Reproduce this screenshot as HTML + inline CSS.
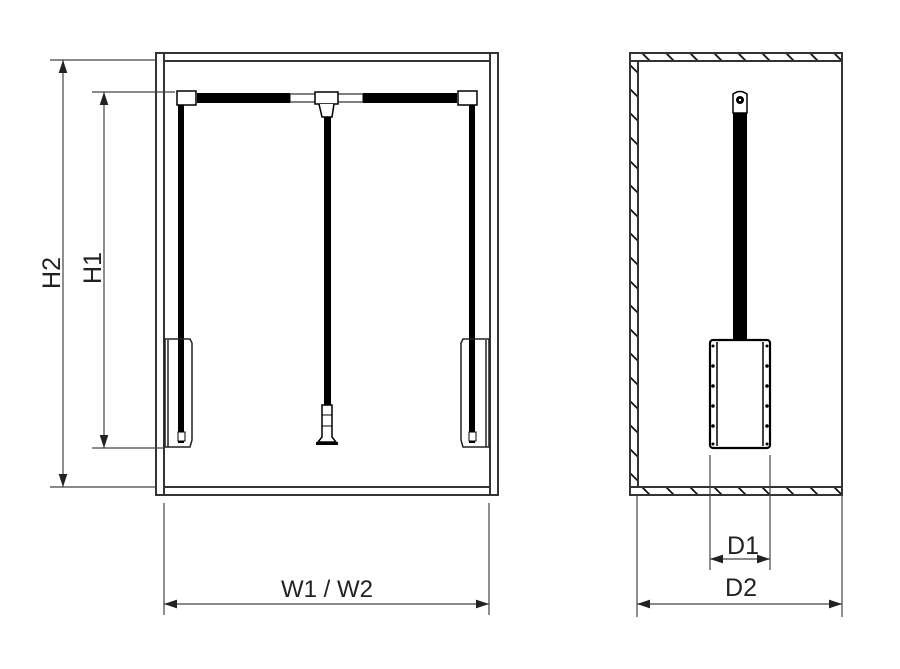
<!DOCTYPE html>
<html><head><style>html,body{margin:0;padding:0;background:#fff;}svg{display:block;}</style></head>
<body>
<svg width="900" height="669" viewBox="0 0 900 669" xmlns="http://www.w3.org/2000/svg" font-family="Liberation Sans, sans-serif">
<defs>
<marker id="ar" viewBox="0 0 12 8" refX="12" refY="4" markerWidth="13" markerHeight="9" orient="auto-start-reverse" markerUnits="userSpaceOnUse"><path d="M0,0 L12,4 L0,8 z" fill="#222"/></marker>
<pattern id="hh" x="640" y="53" width="24" height="8" patternUnits="userSpaceOnUse"><path d="M2,0 L10,8" stroke="#111" stroke-width="1.8"/></pattern>
<pattern id="hb" x="640" y="487" width="24" height="8" patternUnits="userSpaceOnUse"><path d="M2,0 L10,8" stroke="#111" stroke-width="1.8"/></pattern>
<pattern id="hv" x="630" y="65" width="8" height="24" patternUnits="userSpaceOnUse"><path d="M0,0 L8,8" stroke="#111" stroke-width="1.8"/></pattern>
</defs>
<g fill="none" stroke="#333" stroke-width="2">
<rect x="156" y="53" width="342" height="442"/>
<line x1="164" y1="53" x2="164" y2="495"/>
<line x1="490" y1="53" x2="490" y2="495"/>
<line x1="164" y1="61" x2="490" y2="61"/>
<line x1="164" y1="487" x2="490" y2="487"/>
</g>
<g stroke="#444" stroke-width="1.2" fill="none">
<line x1="50" y1="60" x2="156" y2="60"/>
<line x1="50" y1="487" x2="156" y2="487"/>
<line x1="92" y1="92" x2="175" y2="92"/>
<line x1="92" y1="448" x2="165" y2="448"/>
<line x1="63" y1="60" x2="63" y2="487" marker-start="url(#ar)" marker-end="url(#ar)"/>
<line x1="104" y1="92" x2="104" y2="448" marker-start="url(#ar)" marker-end="url(#ar)"/>
<line x1="164" y1="503" x2="164" y2="615"/>
<line x1="489" y1="503" x2="489" y2="615"/>
<line x1="164" y1="604" x2="489" y2="604" marker-start="url(#ar)" marker-end="url(#ar)"/>
</g>
<text x="60" y="273" font-size="25" fill="#222" text-anchor="middle" transform="rotate(-90 60 273)">H2</text>
<text x="101" y="268" font-size="25" fill="#222" text-anchor="middle" transform="rotate(-90 101 268)">H1</text>
<text x="327" y="597" font-size="24" fill="#222" text-anchor="middle">W1 / W2</text>
<rect x="197" y="93" width="93" height="10" fill="#000"/>
<rect x="363" y="93" width="94" height="10" fill="#000"/>
<rect x="290" y="94" width="25" height="8" fill="#fff" stroke="#000" stroke-width="1"/>
<rect x="338" y="94" width="25" height="8" fill="#fff" stroke="#000" stroke-width="1"/>
<rect x="315" y="92" width="23" height="12" fill="#fff" stroke="#000" stroke-width="1.5"/>
<path d="M319,104 L322,117 L332,117 L334,104" fill="#fff" stroke="#000" stroke-width="1.5"/>
<rect x="177" y="91" width="19" height="14" fill="#fff" stroke="#000" stroke-width="1.5"/>
<rect x="458" y="91" width="19" height="14" fill="#fff" stroke="#000" stroke-width="1.5"/>
<rect x="178" y="105" width="6" height="338" fill="#000"/>
<rect x="469" y="105" width="6" height="338" fill="#000"/>
<rect x="324" y="117" width="7" height="288" fill="#000"/>
<path d="M322,405 L332,405 L332,437 L336,442 L318,442 L322,437 z" fill="#fff" stroke="#000" stroke-width="1.5"/>
<line x1="322" y1="415" x2="332" y2="415" stroke="#000"/><line x1="322" y1="426" x2="332" y2="426" stroke="#000"/>
<rect x="316" y="442" width="22" height="3" fill="#000"/>
<g fill="none" stroke="#222" stroke-width="1.5">
<path d="M165,339 L190,339 L192,343 L192,440 L190,447 L165,447 z"/>
<line x1="168" y1="340" x2="168" y2="447"/>
<path d="M489,339 L463,339 L461,343 L461,440 L463,447 L489,447 z"/>
<line x1="486" y1="340" x2="486" y2="447"/>
</g>
<rect x="178" y="432" width="7" height="9" fill="#fff" stroke="#000"/>
<rect x="469" y="432" width="7" height="9" fill="#fff" stroke="#000"/>
<rect x="630" y="53" width="212" height="8" fill="url(#hh)" stroke="#333" stroke-width="2"/>
<rect x="630" y="487" width="212" height="8" fill="url(#hb)" stroke="#333" stroke-width="2"/>
<rect x="630" y="61" width="8" height="426" fill="url(#hv)" stroke="#333" stroke-width="2"/>
<line x1="842" y1="53" x2="842" y2="495" stroke="#333" stroke-width="2"/>
<path d="M733,113 L733,94 Q740,89 747,94 L747,113 z" fill="#fff" stroke="#000" stroke-width="1.5"/>
<circle cx="740" cy="100" r="4" fill="#000"/><circle cx="740" cy="100" r="1.2" fill="#fff"/>
<rect x="733" y="113" width="14" height="228" fill="#000"/>
<rect x="710" y="340" width="60" height="108" rx="3" fill="#fff" stroke="#000" stroke-width="2.2"/>
<line x1="717" y1="342" x2="717" y2="446" stroke="#000" stroke-width="1.5"/>
<line x1="763" y1="342" x2="763" y2="446" stroke="#000" stroke-width="1.5"/>
<g fill="#000"><circle cx="713" cy="346" r="1.5"/><circle cx="713" cy="366" r="1.8"/><circle cx="713" cy="386" r="1.8"/><circle cx="713" cy="406" r="1.8"/><circle cx="713" cy="426" r="1.8"/><circle cx="713" cy="444" r="1.5"/><circle cx="767" cy="346" r="1.5"/><circle cx="767" cy="366" r="1.8"/><circle cx="767" cy="386" r="1.8"/><circle cx="767" cy="406" r="1.8"/><circle cx="767" cy="426" r="1.8"/><circle cx="767" cy="444" r="1.5"/></g>
<g stroke="#444" stroke-width="1.2" fill="none">
<line x1="710" y1="455" x2="710" y2="570"/>
<line x1="770" y1="455" x2="770" y2="570"/>
<line x1="710" y1="559" x2="770" y2="559" marker-start="url(#ar)" marker-end="url(#ar)"/>
<line x1="637" y1="495" x2="637" y2="617"/>
<line x1="842" y1="495" x2="842" y2="617"/>
<line x1="637" y1="604" x2="842" y2="604" marker-start="url(#ar)" marker-end="url(#ar)"/>
</g>
<text x="743" y="554" font-size="25" fill="#222" text-anchor="middle">D1</text>
<text x="741" y="596" font-size="25" fill="#222" text-anchor="middle">D2</text>
</svg>
</body></html>
